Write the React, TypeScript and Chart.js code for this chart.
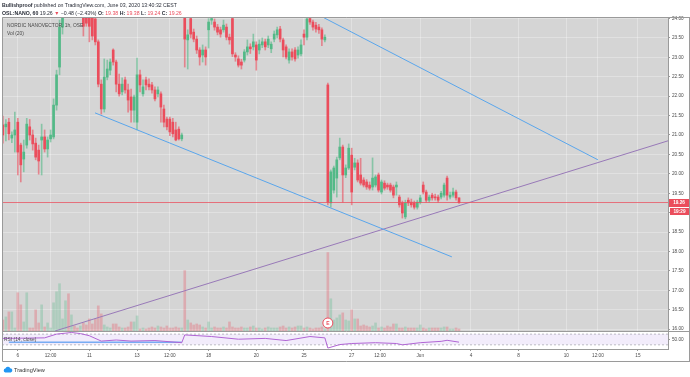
import React, { useEffect, useRef } from 'react';
import { Chart, registerables } from 'chart.js';

Chart.register(...registerables);

// ---- OHLC (1h bars, OSL:NANO) ----
const candleOpen = [
  21.26, 21.21, 21.33, 20.92, 21.0, 21.33, 20.74, 20.38, 20.74, 21.21,
  21.0, 20.79, 20.61, 20.87, 20.95, 20.64, 20.9, 20.95, 21.77, 22.75,
  23.78, 24.3, 24.6, 24.4, 24.7, 24.5, 24.3, 24.1, 24.2, 24.1,
  24.05, 23.99, 23.4, 22.31, 21.67, 22.49, 22.67, 23.19, 22.88, 22.31,
  22.11, 22.42, 22.16, 21.98, 21.64, 21.33, 22.55, 22.06, 22.42, 22.31,
  22.29, 22.16, 22.06, 22.06, 21.67, 21.41, 21.41, 21.33, 21.13, 21.15,
  20.9, 24.1, 23.45, 24.0, 23.65, 23.47, 23.19, 23.06, 23.19, 23.71,
  23.96, 23.91, 23.78, 23.71, 23.71, 23.78, 23.52, 24.0, 23.06, 22.96,
  22.88, 22.93, 23.14, 23.27, 23.27, 23.32, 23.19, 23.32, 23.4, 23.32,
  23.22, 23.47, 23.58, 23.73, 23.45, 23.27, 22.93, 23.14, 23.19, 23.06,
  23.09, 23.6, 23.52, 24.0, 23.91, 23.83, 23.78, 23.71, 23.45, 22.29,
  19.25, 19.58, 19.89, 20.41, 20.69, 19.97, 20.15, 20.48, 20.17, 20.28,
  19.97, 19.84, 19.79, 19.71, 19.66, 19.71, 19.97, 19.53, 19.76, 19.71,
  19.71, 19.66, 19.66, 19.4, 19.25, 18.89, 19.32, 19.27, 19.25, 19.14,
  19.27, 19.71, 19.53, 19.32, 19.45, 19.4, 19.4, 19.4, 19.45, 19.89,
  19.4, 19.45, 19.53, 19.38,
];
const candleHigh = [
  21.49, 21.4, 21.43, 21.08, 21.59, 21.43, 20.79, 20.87, 21.43, 21.4,
  21.13, 20.92, 20.74, 21.28, 21.13, 20.95, 21.13, 21.93, 22.67, 23.96,
  24.5, 24.8, 24.8, 24.9, 24.9, 24.6, 24.6, 24.5, 24.3, 24.3,
  24.3, 24.1, 23.45, 22.42, 22.96, 22.93, 22.96, 23.22, 22.93, 22.57,
  22.47, 22.49, 22.31, 22.18, 22.03, 22.98, 22.67, 22.42, 22.49, 22.45,
  22.36, 22.24, 22.24, 22.11, 21.77, 21.46, 21.46, 21.43, 21.33, 21.21,
  21.05, 24.3, 23.71, 24.1, 23.73, 23.55, 23.25, 23.32, 23.27, 24.0,
  24.2, 23.99, 23.85, 23.78, 23.96, 23.86, 23.6, 24.1, 23.12, 23.04,
  22.95, 23.2, 23.45, 23.35, 23.6, 23.4, 23.45, 23.5, 23.47, 23.55,
  23.4, 23.68, 23.78, 23.8, 23.5, 23.32, 23.22, 23.22, 23.25, 23.27,
  23.45, 23.71, 24.1, 24.1, 23.96, 23.9, 23.85, 23.76, 23.58, 22.34,
  20.1, 20.2, 20.43, 20.92, 20.74, 20.23, 20.77, 20.66, 20.4, 20.36,
  20.4, 19.9, 19.85, 19.79, 20.41, 19.97, 20.02, 19.84, 19.82, 19.76,
  19.76, 19.71, 19.79, 19.45, 19.3, 19.32, 19.38, 19.35, 19.3, 19.32,
  19.45, 19.79, 19.58, 19.45, 19.5, 19.48, 19.45, 19.55, 19.76, 19.94,
  19.53, 19.63, 19.58, 19.38,
];
const candleLow = [
  20.79, 20.85, 20.87, 20.8, 20.56, 19.97, 19.79, 20.05, 20.66, 20.87,
  20.61, 20.36, 19.99, 19.97, 20.56, 20.43, 20.82, 20.9, 21.64, 22.55,
  23.6, 24.1, 24.2, 24.3, 24.3, 24.1, 24.1, 23.55, 23.8, 23.4,
  23.45, 23.32, 22.24, 21.54, 21.59, 22.42, 22.55, 22.8, 22.11, 22.0,
  22.03, 22.08, 21.59, 21.33, 21.33, 21.13, 22.11, 22.0, 22.16, 22.16,
  22.08, 21.88, 21.98, 21.33, 21.21, 21.13, 20.98, 20.95, 20.85, 20.87,
  20.85, 22.75, 22.7, 23.5, 23.4, 23.1, 22.8, 22.88, 22.8, 23.24,
  23.85, 23.7, 23.58, 23.52, 23.65, 23.45, 23.34, 23.02, 22.9, 22.75,
  22.7, 22.88, 23.06, 23.1, 23.19, 22.67, 23.09, 23.25, 23.19, 23.25,
  23.12, 23.4, 23.5, 23.4, 23.01, 22.96, 22.85, 22.93, 22.9, 22.98,
  23.04, 23.32, 23.45, 23.85, 23.7, 23.65, 23.62, 23.3, 23.4, 19.2,
  19.14, 19.5, 19.4, 20.36, 19.27, 19.9, 20.11, 19.2, 20.1, 19.79,
  19.71, 19.66, 19.6, 19.58, 19.58, 19.66, 19.53, 19.48, 19.58, 19.6,
  19.53, 19.38, 19.45, 19.14, 18.86, 18.84, 19.18, 19.14, 19.09, 19.09,
  19.22, 19.48, 19.27, 19.27, 19.32, 19.32, 19.27, 19.35, 19.4, 19.32,
  19.35, 19.4, 19.32, 19.24,
];
const candleClose = [
  21.0, 21.28, 21.03, 21.0, 21.13, 20.56, 20.23, 20.56, 21.28, 21.0,
  20.77, 20.43, 20.33, 20.95, 20.64, 20.87, 21.0, 21.77, 22.55, 23.78,
  24.35, 24.6, 24.4, 24.7, 24.5, 24.3, 24.5, 23.8, 23.88, 23.8,
  23.55, 23.4, 22.31, 21.67, 22.49, 22.7, 22.88, 22.88, 22.31, 22.06,
  22.31, 22.16, 21.9, 21.64, 21.98, 22.55, 22.29, 22.24, 22.29, 22.24,
  22.16, 21.93, 22.16, 21.72, 21.33, 21.21, 21.08, 21.03, 20.87, 20.9,
  21.0, 23.47, 23.58, 23.6, 23.47, 23.19, 23.01, 23.19, 23.01, 23.91,
  24.0, 23.78, 23.65, 23.6, 23.83, 23.52, 23.45, 23.09, 23.01, 22.8,
  22.8, 23.14, 23.27, 23.22, 23.4, 22.93, 23.34, 23.4, 23.27, 23.47,
  23.34, 23.6, 23.71, 23.47, 23.19, 23.01, 23.14, 23.01, 22.96, 23.19,
  23.32, 23.52, 23.99, 23.91, 23.78, 23.73, 23.71, 23.47, 23.52, 19.27,
  20.05, 20.15, 20.36, 20.69, 19.97, 20.15, 20.66, 19.53, 20.28, 19.84,
  19.76, 19.71, 19.66, 19.63, 19.89, 19.92, 19.58, 19.79, 19.63, 19.66,
  19.58, 19.45, 19.71, 19.2, 18.99, 19.25, 19.25, 19.2, 19.14, 19.27,
  19.38, 19.53, 19.32, 19.4, 19.38, 19.38, 19.32, 19.5, 19.71, 19.45,
  19.45, 19.53, 19.38, 19.26,
];
// volume, thousands of shares
const volumeK = [
  33, 42, 57, 57, 9, 114, 78, 27, 114, 9,
  9, 63, 24, 78, 12, 24, 9, 84, 117, 141,
  36, 90, 111, 48, 15, 9, 15, 24, 18, 36,
  21, 36, 75, 51, 18, 12, 9, 21, 21, 12,
  9, 9, 12, 27, 27, 45, 6, 9, 6, 9,
  12, 9, 15, 12, 9, 15, 9, 9, 12, 9,
  9, 180, 33, 24, 18, 21, 18, 12, 9, 27,
  9, 12, 9, 9, 12, 9, 27, 12, 9, 9,
  12, 9, 9, 12, 15, 9, 9, 6, 9, 12,
  9, 9, 9, 12, 15, 9, 12, 9, 12, 15,
  15, 9, 12, 9, 6, 9, 9, 12, 6, 234,
  96, 33, 39, 48, 54, 33, 30, 63, 36, 36,
  15, 18, 15, 12, 15, 24, 9, 12, 9, 15,
  12, 21, 21, 9, 9, 12, 9, 9, 9, 9,
  18, 9, 6, 9, 9, 9, 9, 9, 12, 12,
  6, 6, 9, 6,
];
// RSI(14) read at bar indices
const rsiIdx = [0, 14, 18, 23, 26, 29, 33, 38, 43, 51, 60, 61, 70, 79, 88, 95, 103, 108, 109, 113, 117, 125, 132, 134, 140, 147, 149, 153];
const rsiValue = [54, 56, 70, 76, 72, 64, 44, 48, 44, 46, 38, 67, 61, 51, 54, 46, 61, 56, 18, 31, 35, 38, 35, 30, 38, 43, 47, 40];
const rsiMarkIdx = [2, 60];
const rsiMarkValue = [40, 40];
const rsiUpperBand = 70;
const rsiLowerBand = 30;
const rsiTicks = [50];

// axes
const priceTicks = [16, 16.5, 17, 17.5, 18, 18.5, 19, 19.5, 20, 20.5, 21, 21.5, 22, 22.5, 23, 23.5, 24];
const timeTickIdx = [5, 16, 29, 45, 56, 69, 85, 101, 117, 126.5, 140, 157, 173, 189, 199.6, 213];
const timeTickLabel = ['6', '12:00', '11', '13', '12:00', '18', '20', '25', '27', '12:00', 'Jun', '4', '8', '10', '12:00', '15'];

// drawings (bar index, price)
const trendBlueAIdx = [30.9, 150.6];
const trendBlueAPrice = [21.57, 17.86];
const trendBlueBIdx = [107.7, 199.6];
const trendBlueBPrice = [24.02, 20.36];
const trendPurpleIdx = [17.5, 223.1];
const trendPurplePrice = [15.95, 20.85];

const eventIdx = 109;
const eventLabel = 'E';
const countdownLabel = '19:29';

const xMin = -0.3;
const xMax = 223.1;
const priceMin = 15.95;
const priceMax = 24.04;
const rsiMin = 14.5;
const rsiMax = 81.6;

const UP = '#53b987';
const DOWN = '#eb4d5c';
const FONT = "'Liberation Sans', Arial, sans-serif";

export default function App() {
  const ref = useRef<HTMLCanvasElement>(null);

  useEffect(() => {
    const lastClose = candleClose[candleClose.length - 1];
    const isUp = (i: number) => candleClose[i] >= candleOpen[i];
    const wicks = candleOpen.map((_, i) => ({ x: i, y: [candleLow[i], candleHigh[i]] }));
    const bodies = candleOpen.map((_, i) => ({ x: i, y: [candleOpen[i], candleClose[i]] }));
    const vols = volumeK.map((v, i) => ({ x: i, y: v }));
    const pts = (xs: number[], ys: number[]) => xs.map((x, i) => ({ x, y: ys[i] }));
    const maxVol = Math.max(...volumeK);

    const tickFont = { family: FONT, size: 4.7 };

    const framePlugin = {
      id: 'frame',
      beforeDraw(chart: any) {
        const { ctx, chartArea, scales } = chart;
        const y = scales.y;
        ctx.save();
        ctx.fillStyle = '#d5d5d5';
        ctx.fillRect(chartArea.left, y.top, chartArea.right - chartArea.left, y.bottom - y.top);
        ctx.restore();
      },
      afterDraw(chart: any) {
        const { ctx, chartArea, scales, width } = chart;
        const x = scales.x;
        const y = scales.y;
        ctx.save();
        ctx.strokeStyle = '#9a9a9a';
        ctx.lineWidth = 1;
        const line = (x1: number, y1: number, x2: number, y2: number) => {
          ctx.beginPath();
          ctx.moveTo(x1, y1);
          ctx.lineTo(x2, y2);
          ctx.stroke();
        };
        const L = Math.round(chartArea.left) + 0.5;
        const T = Math.round(chartArea.top) + 0.5;
        const S = Math.round(y.bottom) + 0.5;
        const B = Math.round(x.bottom) - 0.5;
        line(L, T, width, T);
        line(L, T, L, B);
        line(L, S, width, S);
        line(L, B, width, B);
        line(width - 0.5, T, width - 0.5, B);

        // last price label + countdown
        const py = Math.round(y.getPixelForValue(lastClose));
        const bx = chartArea.right + 1;
        ctx.fillStyle = DOWN;
        ctx.fillRect(bx, py - 4, 20, 8);
        ctx.fillRect(bx + 1, py + 5, 19, 7);
        ctx.fillStyle = '#ffffff';
        ctx.font = `bold 4.7px ${FONT}`;
        ctx.textAlign = 'center';
        ctx.textBaseline = 'middle';
        ctx.fillText(lastClose.toFixed(2), bx + 10, py);
        ctx.fillText(countdownLabel, bx + 10.5, py + 8.5);

        // event marker
        const ex = x.getPixelForValue(eventIdx);
        const ey = y.bottom - 8;
        ctx.beginPath();
        ctx.arc(ex, ey, 5, 0, Math.PI * 2);
        ctx.fillStyle = '#ffffff';
        ctx.fill();
        ctx.strokeStyle = DOWN;
        ctx.lineWidth = 1;
        ctx.stroke();
        ctx.fillStyle = DOWN;
        ctx.font = `bold 5px ${FONT}`;
        ctx.fillText(eventLabel, ex, ey + 0.5);
        ctx.restore();
      },
    };

    const chart = new Chart(ref.current as HTMLCanvasElement, {
      type: 'bar',
      data: {
        datasets: [
          {
            type: 'line', data: pts([xMin, xMax], [lastClose, lastClose]), yAxisID: 'y', xAxisID: 'x',
            borderColor: 'rgba(235,77,92,0.75)', borderWidth: 1, pointRadius: 0, order: 1, clip: 0,
          } as any,
          {
            type: 'line', data: pts(trendBlueAIdx, trendBlueAPrice), yAxisID: 'y', xAxisID: 'x',
            borderColor: '#5aa6ec', borderWidth: 1, pointRadius: 0, order: 2, clip: 0,
          },
          {
            type: 'line', data: pts(trendBlueBIdx, trendBlueBPrice), yAxisID: 'y', xAxisID: 'x',
            borderColor: '#5aa6ec', borderWidth: 1, pointRadius: 0, order: 2, clip: 0,
          },
          {
            type: 'line', data: pts(trendPurpleIdx, trendPurplePrice), yAxisID: 'y', xAxisID: 'x',
            borderColor: '#9879b8', borderWidth: 1, pointRadius: 0, order: 2, clip: 0,
          },
          {
            type: 'bar', data: bodies, yAxisID: 'y', xAxisID: 'x', grouped: false,
            barThickness: 2, minBarLength: 1, borderWidth: 0,
            backgroundColor: candleOpen.map((_, i) => (isUp(i) ? UP : DOWN)), order: 4, clip: 0,
          } as any,
          {
            type: 'bar', data: wicks, yAxisID: 'y', xAxisID: 'x', grouped: false,
            barThickness: 1, borderWidth: 0,
            backgroundColor: candleOpen.map((_, i) => (isUp(i) ? 'rgba(83,185,135,0.6)' : 'rgba(235,77,92,0.6)')),
            order: 5, clip: 0,
          } as any,
          {
            type: 'bar', data: vols, yAxisID: 'vol', xAxisID: 'x', grouped: false,
            barThickness: 2, borderWidth: 0,
            backgroundColor: candleOpen.map((_, i) => (isUp(i) ? 'rgba(83,185,135,0.3)' : 'rgba(235,77,92,0.3)')),
            order: 8, clip: 0,
          } as any,
          {
            type: 'line', data: pts(rsiIdx, rsiValue), yAxisID: 'rsi', xAxisID: 'x',
            borderColor: '#b064d4', borderWidth: 1, pointRadius: 0, order: 2, clip: 0,
          },
          {
            type: 'line', data: pts(rsiMarkIdx, rsiMarkValue), yAxisID: 'rsi', xAxisID: 'x',
            borderColor: 'rgba(77,150,240,0.75)', borderWidth: 1.5, pointRadius: 0, order: 3, clip: 0,
          },
          {
            type: 'line', data: pts([xMin, xMax], [rsiUpperBand, rsiUpperBand]), yAxisID: 'rsi', xAxisID: 'x',
            borderColor: 'rgba(140,140,150,0.7)', borderWidth: 0.8, borderDash: [2, 2], pointRadius: 0, order: 6, clip: 0,
          },
          {
            type: 'line', data: pts([xMin, xMax], [rsiLowerBand, rsiLowerBand]), yAxisID: 'rsi', xAxisID: 'x',
            borderColor: 'rgba(140,140,150,0.7)', borderWidth: 0.8, borderDash: [2, 2], pointRadius: 0, order: 6, clip: 0,
            fill: { value: rsiUpperBand }, backgroundColor: 'rgba(150,100,220,0.12)',
          } as any,
        ],
      },
      options: {
        responsive: false,
        animation: false,
        devicePixelRatio: 1,
        layout: { padding: { left: 2, top: 17, right: 0, bottom: 15 } },
        plugins: { legend: { display: false }, tooltip: { enabled: false }, title: { display: false } },
        scales: {
          x: {
            type: 'linear', min: xMin, max: xMax, offset: false,
            grid: { color: 'rgba(255,255,255,0.3)', offset: false, tickLength: 2, tickColor: '#9a9a9a' },
            border: { color: '#9a9a9a' },
            ticks: {
              autoSkip: false, maxRotation: 0, font: tickFont, color: '#4a4a4a', padding: 2,
              callback: (_v: any, i: number) => timeTickLabel[i] ?? '',
            },
            afterBuildTicks: (s: any) => { s.ticks = timeTickIdx.map((v) => ({ value: v })); },
            afterFit: (s: any) => { s.height = 13; },
          },
          y: {
            type: 'linear', position: 'right', stack: 'right', stackWeight: 314,
            min: priceMin, max: priceMax,
            grid: { color: 'rgba(255,255,255,0.3)', tickLength: 2, tickColor: '#9a9a9a' },
            border: { color: '#9a9a9a' },
            ticks: { autoSkip: false, font: tickFont, color: '#4a4a4a', padding: 2, callback: (v: any) => Number(v).toFixed(2) },
            afterBuildTicks: (s: any) => { s.ticks = priceTicks.map((v) => ({ value: v })); },
            afterFit: (s: any) => { s.width = 22; },
          },
          rsi: {
            type: 'linear', position: 'right', stack: 'right', stackWeight: 18,
            min: rsiMin, max: rsiMax,
            grid: { drawOnChartArea: false, tickLength: 2, tickColor: '#9a9a9a' },
            border: { color: '#9a9a9a' },
            ticks: { autoSkip: false, font: tickFont, color: '#4a4a4a', padding: 2, callback: (v: any) => Number(v).toFixed(2) },
            afterBuildTicks: (s: any) => { s.ticks = rsiTicks.map((v) => ({ value: v })); },
            afterFit: (s: any) => { s.width = 22; },
          },
          volPad: {
            type: 'linear', position: 'left', stack: 'left', stackWeight: 18, display: false, min: 0, max: 1,
          },
          vol: {
            type: 'linear', position: 'left', stack: 'left', stackWeight: 314, display: false,
            min: 0, max: maxVol * 4,
          },
        } as any,
      },
      plugins: [framePlugin],
    } as any);
    return () => chart.destroy();
  }, []);

  const txt: React.CSSProperties = {
    position: 'absolute', whiteSpace: 'nowrap', fontFamily: FONT, fontSize: '5.2px', lineHeight: '7px', color: '#2a2e39',
  };
  const red = { color: DOWN };

  return (
    <div style={{ position: 'absolute', left: 0, top: 0, width: 690, height: 377, background: '#ffffff', overflow: 'hidden' }}>
      <canvas ref={ref} width={690} height={377} style={{ position: 'absolute', left: 0, top: 0 }} />
      <div style={{ ...txt, left: 2, top: 1.5 }}>
        <b>Bullishproof</b> published on TradingView.com, June 03, 2020 13:40:32 CEST
      </div>
      <div style={{ ...txt, left: 2, top: 9.5 }}>
        <b>OSL:NANO, 60</b> 19.26 <span style={red}>▼</span> −0.48 (−2.43%) <b>O:</b> <span style={red}>19.38</span>{' '}
        <b>H:</b> <span style={red}>19.38</span> <b>L:</b> <span style={red}>19.24</span> <b>C:</b>{' '}
        <span style={red}>19.26</span>
      </div>
      <div style={{ ...txt, left: 7, top: 21.5, fontSize: '4.9px', color: '#4a4a4a' }}>NORDIC NANOVECTOR, 1h, OSE</div>
      <div style={{ ...txt, left: 7, top: 30, fontSize: '4.9px', color: '#4a4a4a' }}>Vol (20)</div>
      <div style={{ ...txt, left: 4, top: 336, fontSize: '4.9px', color: '#4a4a4a' }}>RSI (14, close)</div>
      <div style={{ position: 'absolute', left: 3, top: 366, display: 'flex', alignItems: 'center' }}>
        <svg width="10" height="7" viewBox="0 0 10 7">
          <path d="M2.2 6.5 A2 2 0 0 1 2.4 2.6 A2.6 2.6 0 0 1 7.2 2.2 A2.2 2.2 0 0 1 7.8 6.5 Z" fill="#2196f3" />
        </svg>
        <span style={{ fontFamily: FONT, fontSize: '5.6px', color: '#333', marginLeft: 1 }}>TradingView</span>
      </div>
    </div>
  );
}
